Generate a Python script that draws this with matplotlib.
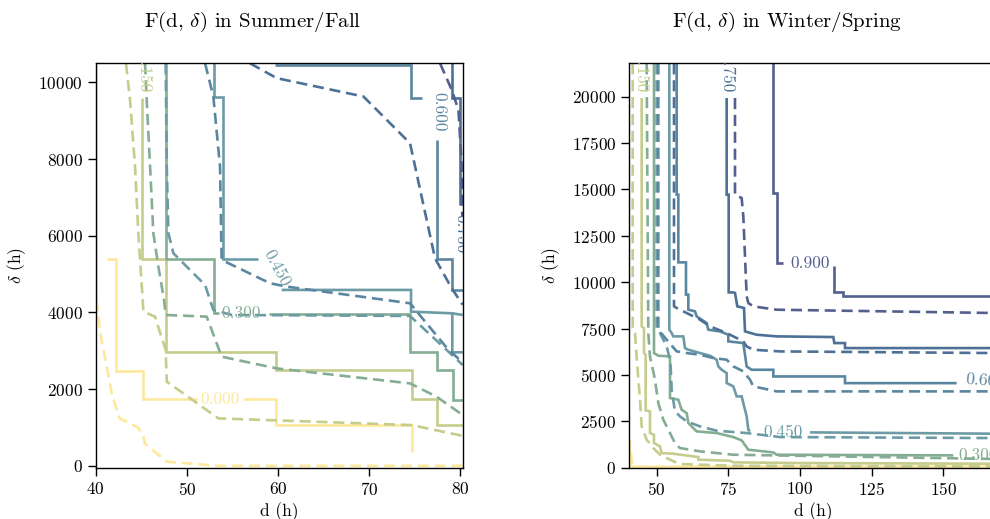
import matplotlib
matplotlib.use("Agg")
import matplotlib.pyplot as plt

plt.rcParams['font.family'] = ['cmr10', 'DejaVu Serif']
plt.rcParams['mathtext.fontset'] = 'cm'
plt.rcParams['axes.formatter.use_mathtext'] = True
plt.rcParams['axes.unicode_minus'] = False

FS = 12.5
LW = 1.9

# contour levels and colours
LEVELS = [0.0, 0.15, 0.3, 0.45, 0.6, 0.75, 0.9]
COLORS = ['#fde89c', '#c6cc8b', '#84ad94', '#6c9ba5', '#5b86a0', '#4d7196', '#535f8f']

# ---------------- Summer/Fall (left) ----------------
sf00_solid_a_x = [41.2, 42.22, 42.22, 45.15, 45.15, 51.07]
sf00_solid_a_y = [5400, 5400, 2480, 2480, 1740, 1740]
sf00_solid_b_x = [56.18, 59.77, 59.77, 74.65, 74.65]
sf00_solid_b_y = [1740, 1740, 1063, 1063, 366]
sf00_solid_c_x = [40.06, 40.06]
sf00_solid_c_y = [10500, 3990]
sf00_dash_x = [40.1, 40.5, 41.2, 41.75, 42.6, 44.5, 45.15, 45.4, 47.8, 51.4, 53.3, 80.25]
sf00_dash_y = [4330, 3460, 2590, 1890, 1240, 1020, 850, 580, 105, 40, 0, 0]

sf15_solid_x = [45.04, 45.04, 47.67, 47.67, 59.77, 59.77, 74.65, 74.65, 77.39, 77.39, 80.25]
sf15_solid_y = [9600, 5400, 5400, 2960, 2960, 2500, 2500, 1740, 1740, 1063, 1063]
sf15_dash_x = [43.32, 43.76, 44.31, 44.67, 44.86, 45.23, 46.50, 47.67, 47.79, 49.61, 53.45, 74.65, 80.25]
sf15_dash_y = [10500, 9548, 7807, 6067, 5397, 4022, 3891, 3021, 2194, 1889, 1237, 1063, 780]

sf30_solid_a_x = [47.67, 47.67, 53.01, 53.01, 53.5]
sf30_solid_a_y = [10500, 5397, 5397, 3990, 3990]
sf30_solid_b_x = [59.05, 74.47, 74.47, 77.39, 77.39, 79.15, 79.15, 80.25]
sf30_solid_b_y = [3960, 3960, 2977, 2977, 2498, 2498, 1715, 1715]
sf30_dash_x = [45.41, 45.59, 45.96, 46.32, 46.87, 47.49, 47.67, 52.17, 53.81, 59.85, 74.47, 77.39, 80.25]
sf30_dash_y = [10500, 9548, 7807, 6067, 5197, 4327, 3935, 3891, 2847, 2541, 2150, 1802, 1324]

sf45_solid_a_x = [53.01, 53.01, 53.93, 53.93, 57.84]
sf45_solid_a_y = [10500, 9617, 9617, 5397, 5397]
sf45_solid_b_x = [60.4, 74.58, 74.58, 79.11, 79.11, 80.25]
sf45_solid_b_y = [4588, 4588, 4022, 3978, 2960, 2960]
sf45_solid_c_x = [79.11, 80.25]
sf45_solid_c_y = [3978, 3935]
sf45_dash_x = [47.67, 47.79, 47.97, 48.52, 50.34, 51.99, 52.9, 54.94, 74.47, 78.49, 80.25]
sf45_dash_y = [10500, 7807, 6067, 5544, 5110, 4718, 4066, 3935, 3909, 3021, 2629]

sf60_solid_a_x = [59.66, 74.58, 74.58, 75.75]
sf60_solid_a_y = [10462, 10462, 9600, 9600]
sf60_solid_b_x = [77.39, 77.39, 79.11, 79.11, 80.25]
sf60_solid_b_y = [8500, 5397, 5397, 4588, 4588]
sf60_dash_x = [51.99, 52.9, 53.63, 53.81, 59.12, 60.94, 74.47, 78.49, 80.25]
sf60_dash_y = [10500, 9634, 7807, 5371, 4762, 4675, 4240, 3080, 2690]

sf75_solid_x = [79.11, 79.11, 79.96, 79.96]
sf75_solid_y = [10500, 9600, 9600, 6800]
sf75_dash_x = [56.92, 59.85, 69.36, 74.47, 77.21, 79.04, 80.25]
sf75_dash_y = [10500, 10113, 9634, 8416, 5414, 4631, 4200]

sf90_dash_x = [77.76, 79.04, 79.78, 80.1, 80.2]
sf90_dash_y = [10500, 9810, 9286, 8000, 6500]

# ---------------- Winter/Spring (right) ----------------
ws00_solid_x = [40.7, 40.7, 42.0, 168.5]
ws00_solid_y = [1500, 100, 40, 30]
ws00_dash_x = [41.0, 41.6, 44.0, 168.5]
ws00_dash_y = [800, 150, 60, 50]

ws15_solid_x = [44.77, 44.77, 45.58, 45.58, 46.16, 46.16, 47.67, 47.67, 49.07, 49.07, 51.16, 51.74, 55.81, 64.53, 64.53, 75.58, 76.74, 100.0, 168.5]
ws15_solid_y = [19930, 7620, 7530, 6180, 6090, 3090, 3040, 1870, 1780, 1330, 1150, 790, 755, 575, 431, 377, 288, 252, 216]
ws15_dash_x = [41.63, 41.63, 42.44, 43.26, 44.19, 44.77, 46.51, 48.84, 51.16, 54.65, 58.14, 76.74, 168.5]
ws15_dash_y = [21800, 7440, 7260, 5460, 3670, 2230, 1510, 1060, 700, 431, 198, 108, 72]

ws30_solid_x = [49.07, 49.07, 50.58, 54.65, 54.65, 57.56, 58.72, 60.47, 61.05, 62.79, 63.95, 70.93, 76.74, 79.65, 81.98, 90.7, 91.86, 153.49]
ws30_solid_y = [21800, 6182, 6038, 6002, 3756, 3666, 3127, 2947, 2408, 2138, 1959, 1869, 1653, 1474, 970, 827, 701, 665]
ws30_dash_x = [46.51, 47.09, 47.67, 49.42, 50.58, 52.33, 54.65, 56.40, 58.14, 65.12, 76.74, 168.5]
ws30_dash_y = [21800, 7260, 6002, 4744, 3486, 2588, 1869, 1330, 1060, 881, 701, 470]

ws45_solid_a_x = [54.42, 54.42, 55.23, 55.81, 59.30, 59.88, 61.05, 65.12, 68.60, 70.93, 71.51, 72.67, 74.42, 74.42, 76.74, 77.91, 79.65, 80.23, 81.40, 81.98, 82.56]
ws45_solid_a_y = [21800, 7440, 7260, 7080, 7080, 6451, 6361, 6182, 6038, 5822, 5463, 5283, 5103, 4564, 4385, 3846, 3846, 3486, 2767, 2049, 1959]
ws45_solid_b_x = [103.49, 168.5]
ws45_solid_b_y = [1905, 1833]
ws45_dash_x = [50.0, 50.0, 51.16, 53.49, 54.07, 54.88, 55.23, 56.4, 58.14, 60.47, 65.12, 70.93, 81.4, 93.02, 168.5]
ws45_dash_y = [21800, 7440, 7260, 6541, 6182, 5463, 4205, 3037, 2767, 2498, 2228, 1995, 1869, 1653, 1599]

ws60_solid_x = [56.98, 56.98, 57.56, 57.56, 60.23, 60.23, 61.05, 61.05, 63.37, 63.95, 67.44, 68.02, 72.09, 75.0, 75.0, 80.23, 81.4, 83.14, 90.7, 90.7, 115.7, 115.7, 154.65]
ws60_solid_y = [21800, 14720, 14720, 11070, 11070, 9330, 9330, 8520, 8430, 8160, 7800, 7440, 7350, 7170, 6810, 6720, 5460, 5280, 5280, 4920, 4920, 4560, 4560]
ws60_dash_x = [50.58, 50.58, 53.49, 56.98, 60.47, 65.12, 69.77, 74.42, 76.74, 80.23, 82.56, 83.72, 91.86, 168.5]
ws60_dash_y = [21800, 7440, 6900, 6272, 6182, 6092, 5912, 5822, 5463, 5193, 4744, 4385, 4115, 4115]

ws75_solid_x = [74.42, 74.42, 75.12, 75.12, 76.74, 77.33, 78.14, 80.47, 80.81, 84.88, 91.86, 111.63, 111.98, 115.7, 115.7, 168.5]
ws75_solid_y = [19930, 14720, 14720, 9450, 9450, 9420, 8700, 8610, 7350, 7170, 7080, 7044, 6720, 6720, 6450, 6450]
ws75_dash_x = [56.05, 56.05, 56.98, 60.47, 65.12, 68.60, 74.42, 80.23, 81.40, 83.72, 93.02, 168.5]
ws75_dash_y = [21800, 8700, 8610, 8340, 7980, 7620, 7260, 6810, 6540, 6360, 6270, 6180]

ws90_solid_a_x = [90.7, 90.7, 92.09, 92.09, 93.95]
ws90_solid_a_y = [21800, 14810, 14810, 11030, 11030]
ws90_solid_b_x = [112.0, 112.0, 115.12, 115.12, 168.5]
ws90_solid_b_y = [10850, 9450, 9450, 9236, 9236]
ws90_dash_x = [77.33, 77.33, 79.65, 80.23, 81.4, 81.98, 83.72, 91.86, 168.5]
ws90_dash_y = [19930, 14720, 14540, 13550, 9240, 8877, 8697, 8518, 8338]

# contour labels: (level index, x, y, rotation)
sf_labels = [(0, 53.6, 1740, 0), (1, 45.3, 10250, 270), (2, 55.9, 3990, 0),
             (3, 59.85, 5150, -62), (4, 77.68, 9243, 270), (5, 80.1, 6067, 270)]
ws_labels = [(1, 44.4, 21300, 270), (5, 74.6, 21300, 270), (6, 103.5, 11030, 0),
             (4, 164.8, 4700, -4), (3, 94.2, 1905, 0), (2, 162.0, 690, 0)]

sf_lines = [
    (0, '-', sf00_solid_a_x, sf00_solid_a_y), (0, '-', sf00_solid_b_x, sf00_solid_b_y),
    (0, '-', sf00_solid_c_x, sf00_solid_c_y), (0, '--', sf00_dash_x, sf00_dash_y),
    (1, '-', sf15_solid_x, sf15_solid_y), (1, '--', sf15_dash_x, sf15_dash_y),
    (2, '-', sf30_solid_a_x, sf30_solid_a_y), (2, '-', sf30_solid_b_x, sf30_solid_b_y),
    (2, '--', sf30_dash_x, sf30_dash_y),
    (3, '-', sf45_solid_a_x, sf45_solid_a_y), (3, '-', sf45_solid_b_x, sf45_solid_b_y),
    (3, '-', sf45_solid_c_x, sf45_solid_c_y), (3, '--', sf45_dash_x, sf45_dash_y),
    (4, '-', sf60_solid_a_x, sf60_solid_a_y), (4, '-', sf60_solid_b_x, sf60_solid_b_y),
    (4, '--', sf60_dash_x, sf60_dash_y),
    (5, '-', sf75_solid_x, sf75_solid_y), (5, '--', sf75_dash_x, sf75_dash_y),
    (6, '--', sf90_dash_x, sf90_dash_y),
]
ws_lines = [
    (0, '-', ws00_solid_x, ws00_solid_y), (0, '--', ws00_dash_x, ws00_dash_y),
    (1, '-', ws15_solid_x, ws15_solid_y), (1, '--', ws15_dash_x, ws15_dash_y),
    (2, '-', ws30_solid_x, ws30_solid_y), (2, '--', ws30_dash_x, ws30_dash_y),
    (3, '-', ws45_solid_a_x, ws45_solid_a_y), (3, '-', ws45_solid_b_x, ws45_solid_b_y),
    (3, '--', ws45_dash_x, ws45_dash_y),
    (4, '-', ws60_solid_x, ws60_solid_y), (4, '--', ws60_dash_x, ws60_dash_y),
    (5, '-', ws75_solid_x, ws75_solid_y), (5, '--', ws75_dash_x, ws75_dash_y),
    (6, '-', ws90_solid_a_x, ws90_solid_a_y), (6, '-', ws90_solid_b_x, ws90_solid_b_y),
    (6, '--', ws90_dash_x, ws90_dash_y),
]

fig = plt.figure(figsize=(9.9, 5.19), dpi=100)
ax1 = fig.add_axes([0.0967, 0.0988, 0.3707, 0.7792])
ax2 = fig.add_axes([0.6357, 0.0988, 0.3707, 0.7792])


def draw(ax, lines, labels):
    for li, ls, xs, ys in lines:
        ax.plot(xs, ys, color=COLORS[li], lw=LW, ls=ls,
                dashes=(4.2, 2.2) if ls == '--' else (None, None),
                solid_capstyle='butt', dash_capstyle='butt', solid_joinstyle='miter')
    for li, x, y, rot in labels:
        ax.text(x, y, f"{LEVELS[li]:.3f}", color=COLORS[li], fontsize=FS,
                rotation=rot, ha='center', va='center', rotation_mode='anchor',
                clip_on=True)


draw(ax1, sf_lines, sf_labels)
draw(ax2, ws_lines, ws_labels)

ax1.set_xlim(40, 80.25)
ax1.set_ylim(-50, 10500)
ax1.set_xticks([40, 50, 60, 70, 80])
ax1.set_yticks([0, 2000, 4000, 6000, 8000, 10000])

ax2.set_xlim(40.47, 168.5)
ax2.set_ylim(0, 21800)
ax2.set_xticks([50, 75, 100, 125, 150])
ax2.set_yticks([0, 2500, 5000, 7500, 10000, 12500, 15000, 17500, 20000])

for ax in (ax1, ax2):
    ax.tick_params(labelsize=FS, length=5.5, width=1.0, pad=4)
    for sp in ax.spines.values():
        sp.set_linewidth(1.0)
    ax.set_xlabel('d (h)', fontsize=FS, labelpad=3)
    ax.set_ylabel(r'$\delta$ (h)', fontsize=FS, labelpad=7)

fig.text(253 / 990, 1 - 22 / 519, r'F(d, $\delta$) in Summer/Fall', fontsize=15,
         ha='center', va='center')
fig.text(786.5 / 990, 1 - 22 / 519, r'F(d, $\delta$) in Winter/Spring', fontsize=15,
         ha='center', va='center')

fig.savefig('out.png', dpi=100)
